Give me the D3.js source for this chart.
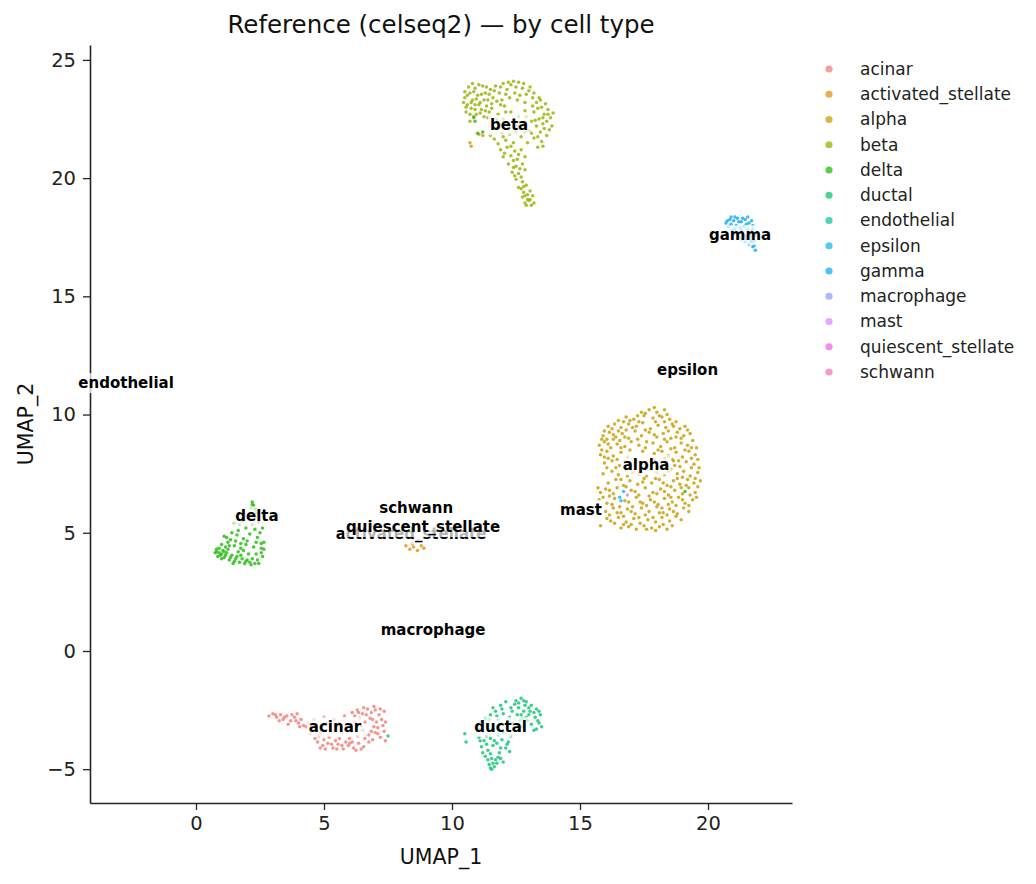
<!DOCTYPE html>
<html>
<head>
<meta charset="utf-8">
<style>
  body { margin: 0; background: #fff; font-family: 'DejaVu Sans', sans-serif; }
  svg { overflow: visible; }
  .tick text { fill: #222; font-family: 'DejaVu Sans', sans-serif; }
  .tick line { stroke: #262626; stroke-width: 1.3; }
  .domain { stroke: #262626; stroke-width: 1.6; }
  .title { font-size: 24.5px; fill: #111; }
  .axlabel { font-size: 20.5px; fill: #111; }
  .legtext { font-size: 17px; fill: #222; }
  .clabel { font-size: 15px; font-weight: bold; fill: #000; }
</style>
</head>
<body>
<svg width="1036" height="884"></svg>
<script src="https://cdn.jsdelivr.net/npm/d3@7"></script>
<script>
// cell types, in legend order
const cellTypes = ["acinar", "activated_stellate", "alpha", "beta", "delta", "ductal", "endothelial",
  "epsilon", "gamma", "macrophage", "mast", "quiescent_stellate", "schwann"];

const typeColors = ["#f18881", "#e59a22", "#cba417", "#9fb617", "#33bf1d", "#21c77d", "#21c8b0",
  "#1fc3e0", "#22b1f7", "#9aa4fc", "#dc90f7", "#f473dd", "#f581b9"];

// UMAP coordinates, one list per cell type
const acinarPts = [[2.85,-2.75],[3.0,-2.65],[3.15,-2.8],[3.3,-2.7],[3.4,-2.9],[3.55,-2.75],[3.7,-2.95],[3.85,-2.8],[4.0,-3.05],[4.1,-2.9],[3.6,-3.1],[3.25,-2.95],[4.2,-3.15],[3.95,-2.65],
  [6.1,-2.6],[6.3,-2.5],[6.5,-2.65],[6.7,-2.45],[6.85,-2.6],[7.0,-2.5],[7.15,-2.7],[6.4,-2.85],[6.6,-3.0],[6.8,-2.85],[7.05,-3.0],[7.25,-2.9],[6.2,-3.0],[6.95,-3.2],[7.3,-3.15],[6.55,-2.4],[7.35,-2.55],
  [4.3,-3.2],[4.5,-3.35],[4.7,-3.1],[4.9,-3.3],[5.1,-3.05],[5.3,-3.4],[5.5,-3.2],[5.7,-3.45],[5.9,-3.15],[6.1,-3.4],[6.3,-3.6],[6.5,-3.35],[6.75,-3.55],[7.0,-3.45],[7.2,-3.65],[7.35,-3.4],[4.6,-2.9],[5.0,-2.8],[5.4,-2.9],[5.8,-2.75],[4.8,-3.6],[5.2,-3.65],[5.6,-3.7],[6.0,-3.7],[7.4,-3.8],[6.9,-3.75],
  [4.75,-3.85],[4.95,-4.0],[5.15,-3.9],[5.35,-4.1],[5.55,-3.95],[5.75,-4.15],[5.95,-4.0],[6.15,-4.1],[6.35,-3.9],[6.55,-4.05],[6.75,-3.85],[5.05,-4.15],[5.45,-3.8],[5.85,-3.85],[6.25,-4.2],[4.65,-3.7],
  [3.1,-2.7],[3.45,-2.8],[3.75,-2.7],[3.9,-2.95],[4.05,-3.2],[4.4,-3.05],[4.55,-3.2],[4.85,-3.45],[5.25,-3.2],[5.6,-3.05],[5.9,-3.35],[6.2,-2.75],[6.45,-3.15],[6.65,-2.7],[6.9,-2.9],[7.1,-3.25],[7.2,-2.45],[7.4,-3.0],[6.35,-2.6],[6.85,-3.4],[7.1,-3.5],[6.0,-3.9],[5.3,-3.95],[5.7,-4.0],[6.1,-3.85],[6.45,-4.15],[4.85,-4.1],[5.5,-4.15],[6.6,-3.7],[5.0,-3.75],[4.45,-3.5],[6.95,-2.35]];

const activatedStellatePts = [[10.7,21.5],[10.75,21.35],[11.05,21.85],[11.2,21.8],
  [8.2,4.45],[8.35,4.3],[8.5,4.4],[8.65,4.25],[8.8,4.45],[8.45,4.55],[8.9,4.35]];

const alphaPts = [[17.4,10.1],[17.7,10.2],[18.0,10.1],[18.3,10.2],[17.9,10.3],
  [16.8,9.9],[17.1,9.8],[17.5,9.95],[17.85,9.85],[18.2,9.9],[18.5,9.8],[16.5,9.75],[18.75,9.7],
  [16.1,9.5],[16.35,9.6],[16.6,9.45],[16.9,9.6],[17.2,9.5],[17.45,9.65],[17.75,9.4],[18.05,9.55],[18.35,9.45],[18.6,9.6],[18.9,9.4],[19.1,9.5],[16.7,9.7],[17.95,9.7],
  [15.9,9.1],[16.15,9.25],[16.4,9.05],[16.65,9.2],[16.9,9.0],[17.15,9.3],[17.4,9.1],[17.7,9.25],[18.0,9.05],[18.25,9.2],[18.55,9.0],[18.8,9.25],[19.05,9.1],[19.3,9.2],[16.05,8.95],[16.55,8.9],
  [15.75,8.7],[15.95,8.85],[16.2,8.6],[16.45,8.75],[16.75,8.65],[17.0,8.85],[17.3,8.7],[17.55,8.6],[17.85,8.8],[18.15,8.65],[18.4,8.85],[18.7,8.6],[18.95,8.8],[19.2,8.7],[19.4,8.9],[16.3,8.95],[15.85,8.5],
  [15.8,8.3],[16.05,8.45],[16.3,8.25],[16.6,8.4],[16.85,8.2],[17.9,8.35],[18.2,8.45],[18.45,8.25],[18.75,8.4],[19.0,8.2],[19.25,8.45],[19.5,8.3],[16.1,8.15],[18.6,8.1],
  [17.2,8.0],[17.6,7.9],[17.9,8.1],
  [15.95,7.95],[16.25,8.05],[16.55,7.85],[18.35,7.95],[18.65,8.05],[18.9,7.8],[19.15,8.0],[19.45,7.9],[19.6,8.1],
  [16.25,7.6],[16.5,7.45],[16.8,7.65],[17.3,7.5],[17.6,7.4],[18.0,7.55],[18.3,7.45],[18.55,7.7],[18.8,7.5],[19.05,7.6],[19.3,7.4],[19.6,7.55],
  [16.1,7.1],[16.4,7.25],[16.7,7.0],[16.95,7.2],[17.25,7.05],[17.5,7.3],[17.8,7.1],[18.1,7.25],[18.4,7.0],[18.65,7.2],[18.9,7.05],[19.2,7.25],[19.45,7.1],[19.7,7.2],
  [15.8,6.7],[16.0,6.85],[16.3,6.65],[17.0,6.8],[17.3,6.6],[17.55,6.9],[17.85,6.7],[18.15,6.85],[18.45,6.6],[18.7,6.8],[19.0,6.65],[19.25,6.9],[19.5,6.7],[15.7,6.9],
  [15.75,6.4],[16.05,6.25],[16.35,6.45],[16.9,6.3],[17.2,6.5],[17.45,6.25],[17.75,6.4],[18.05,6.2],[18.3,6.45],[18.6,6.3],[18.85,6.5],[19.1,6.25],[19.4,6.4],[16.15,6.55],
  [16.0,5.9],[16.3,6.05],[16.6,5.85],[16.85,6.0],[17.15,5.8],[17.4,6.05],[17.7,5.9],[18.0,6.1],[18.25,5.85],[18.5,6.0],[18.8,5.8],[19.05,6.05],[19.25,5.9],
  [16.2,5.5],[16.5,5.65],[16.8,5.45],[17.1,5.6],[17.35,5.4],[17.65,5.55],[17.95,5.45],[18.2,5.65],[18.5,5.5],[18.75,5.7],[16.05,5.6],
  [16.9,5.25],[17.2,5.15],[17.5,5.3],[17.8,5.2],[18.1,5.25],[18.4,5.15],[15.8,5.3],[16.6,5.2],
  [17.55,10.05],[17.25,9.95],[18.1,9.95],[18.4,10.0],[16.95,9.75],[17.3,9.7],[18.3,9.7],[18.65,9.5],[16.25,9.4],[16.5,9.3],[16.8,9.35],[17.05,9.45],[17.55,9.35],[17.9,9.15],[18.45,9.3],[18.75,9.05],[19.2,9.35],[15.95,9.3],[16.3,9.15],[16.75,9.05],[17.25,8.95],[17.6,8.85],[18.3,8.95],[18.95,9.0],[19.35,8.6],[15.85,8.95],[16.1,8.75],[16.6,8.6],[16.95,8.5],[17.45,8.45],[18.05,8.5],[18.55,8.55],[19.1,8.5],[19.55,8.6],[15.95,8.2],[16.45,8.1],[16.75,8.0],[18.3,8.15],[18.85,8.05],[19.35,8.15],[19.65,7.75],[16.05,7.75],[16.4,7.75],[18.2,7.75],[18.45,7.6],[18.7,7.85],[19.0,7.35],[19.35,7.75],[19.5,7.3],[16.6,7.25],[16.85,7.4],[17.05,7.55],[17.45,7.15],[17.95,7.3],[18.25,7.1],[18.55,6.95],[18.8,7.3],[19.15,7.0],[19.6,6.95],[15.9,6.5],[16.15,6.8],[16.45,6.9],[16.8,6.95],[17.15,6.75],[17.7,6.55],[18.0,6.65],[18.3,6.75],[18.55,6.5],[18.95,6.9],[19.3,6.6],[19.55,6.5],[16.25,6.2],[16.55,6.1],[16.75,6.35],[17.05,6.1],[17.35,6.3],[17.6,6.15],[17.9,6.3],[18.2,6.05],[18.45,6.2],[18.75,6.15],[19.0,6.4],[19.25,6.15],[16.15,5.75],[16.45,5.85],[16.7,5.7],[17.0,5.9],[17.3,5.65],[17.55,5.75],[17.85,5.65],[18.1,5.85],[18.4,5.75],[18.65,5.9],[18.95,5.55],[16.35,5.4],[16.7,5.35],[17.0,5.35],[17.6,5.15],[17.95,5.1],[18.25,5.35],[18.6,5.3],[15.75,6.05],[15.9,7.5]];

const betaPts = [[10.5,23.4],[10.6,23.1],[10.7,23.6],[10.8,23.3],[10.9,23.8],[11.0,23.5],[11.1,23.2],[11.2,23.9],[11.3,23.6],[11.4,23.3],[10.55,22.8],[10.75,22.95],[10.95,22.7],[11.15,22.9],[11.35,23.05],[11.5,23.75],[10.65,23.85],[10.85,22.55],[11.05,23.95],[11.25,22.6],[10.45,23.2],[11.45,22.8],[10.7,22.4],[11.6,23.4],[10.9,23.1],
  [11.7,23.9],[11.85,23.6],[12.0,24.0],[12.15,23.75],[12.3,23.95],[12.45,23.6],[12.6,24.05],[12.75,23.8],[12.9,23.55],[13.05,23.85],[13.15,23.4],[11.95,23.3],[12.25,23.4],[12.55,23.3],[12.85,23.2],[12.4,24.1],[11.75,23.25],
  [13.3,23.2],[13.5,23.0],[13.2,22.8],[13.6,22.7],[13.4,22.5],[13.75,22.9],[13.85,22.55],[13.3,22.2],[13.55,22.3],[13.9,22.2],[13.1,22.4],[13.45,21.95],[13.7,21.8],[13.2,21.7],[13.5,21.55],[13.35,21.3],[13.0,22.0],[13.65,23.15],[13.95,22.75],[13.15,23.05],
  [11.6,22.4],[11.8,22.7],[12.0,22.5],[12.3,22.8],[12.6,22.6],[12.85,22.85],[11.7,22.1],[11.95,21.9],[12.2,22.15],[12.5,21.95],[12.75,22.3],[11.5,21.8],[12.1,21.6],[12.4,21.5],[12.7,21.75],[12.95,21.5],[11.8,21.45],[11.55,22.95],[12.05,23.05],
  [11.9,21.2],[12.15,21.3],[12.45,21.15],[12.7,21.2],[12.0,20.9],[12.3,20.95],[12.55,20.8],[12.85,20.9],[12.2,20.6],[12.5,20.5],[12.75,20.6],[12.35,20.25],[12.6,20.2],[12.85,20.35],[12.5,19.95],[12.75,19.85],[12.6,19.6],[12.9,19.7],[12.8,19.4],[13.05,19.45],[12.75,19.2],[12.95,19.1],[13.15,19.25],[12.85,18.95],[13.1,18.85],[13.0,19.05],[12.4,20.45],[13.2,18.95],
  [10.6,23.5],[10.75,23.2],[10.85,23.65],[10.95,23.35],[11.05,23.1],[11.15,23.55],[11.25,23.3],[11.35,23.85],[11.45,23.55],[10.55,23.0],[10.7,22.7],[10.9,22.9],[11.1,22.75],[11.3,22.85],[11.55,23.15],[10.5,23.65],[10.8,24.0],[11.65,23.7],[11.9,23.85],[12.1,23.55],[12.2,24.05],[12.5,23.85],[12.65,23.5],[12.8,24.0],[13.0,23.7],[13.2,23.6],[13.4,23.4],[13.35,22.95],[13.55,22.55],[13.7,22.4],[13.25,22.45],[13.8,22.05],[13.6,22.1],[13.35,21.75],[13.1,21.9],[13.55,21.35],[13.45,23.3],[13.75,22.7],[11.75,22.5],[12.1,22.8],[12.45,22.4],[12.9,22.6],[12.25,21.85],[12.55,22.2],[11.65,21.65],[12.0,21.75],[12.85,21.95],[12.3,21.35],[12.05,21.05],[12.6,21.0],[12.4,20.75],[12.65,20.4],[12.45,20.1],[12.7,20.05],[12.8,19.65],[12.7,19.55],[12.95,19.3],[12.9,18.85],[13.05,19.1],[12.85,19.25],[11.4,22.55],[11.9,23.1]];

const deltaPts = [[10.85,22.6],[10.9,22.4],[11.0,21.9],[11.2,21.95],[19.1,6.75],
  [2.2,6.3],[2.25,6.15],[2.3,6.0],[2.15,6.05],[2.35,5.85],
  [1.5,5.4],[1.8,5.5],[2.1,5.6],[2.45,5.45],[2.6,5.2],[1.65,5.1],[1.95,5.2],[2.3,5.15],[1.4,5.0],
  [1.1,4.85],[1.35,4.7],[1.6,4.9],[1.85,4.75],[2.1,4.95],[2.4,4.8],[2.65,4.6],[1.0,4.5],[1.5,4.45],[1.95,4.5],[2.25,4.4],[2.55,4.35],[1.25,4.6],
  [0.8,4.2],[0.9,4.35],[0.95,4.05],[1.05,4.25],[1.1,3.95],[1.2,4.15],[1.3,3.85],[1.4,4.05],[1.5,3.8],[1.6,4.0],[1.7,3.75],[1.8,3.9],[1.9,3.7],[2.0,3.85],[2.1,3.75],[2.2,3.9],[2.3,3.7],[2.4,3.85],[0.85,4.0],[1.0,3.9],[1.25,4.3],[1.65,4.2],[1.45,3.7],[2.05,4.1],[2.35,4.1],[2.6,4.0],[2.65,4.3],[0.75,4.15],[1.15,4.4],[1.75,4.35],
  [2.2,6.2],[2.3,5.7],[1.7,5.35],[2.2,5.35],[2.5,5.0],[1.55,4.65],[1.75,4.55],[2.0,4.65],[2.35,4.6],[2.55,4.55],[1.2,4.8],[0.9,4.15],[1.0,4.1],[1.15,4.05],[1.35,3.95],[1.55,3.9],[1.75,4.05],[1.95,3.8],[2.15,3.65],[2.45,3.7],[0.8,4.3],[1.1,4.2],[1.3,4.45],[2.55,4.15],[1.85,4.25]];

const ductalPts = [[12.5,-2.1],[12.7,-2.0],[12.9,-2.15],[13.1,-2.3],[13.3,-2.45],[13.45,-2.7],[13.35,-2.95],[13.5,-3.2],[13.2,-3.35],[12.6,-2.4],[12.8,-2.55],[13.0,-2.7],[13.2,-2.6],[12.95,-2.95],[12.75,-2.85],[12.55,-2.7],[13.1,-3.1],[12.45,-2.25],[13.4,-2.55],[12.85,-2.3],
  [11.9,-2.3],[12.1,-2.15],[12.3,-2.4],[11.7,-2.55],[11.5,-2.7],[11.3,-2.85],[11.1,-3.0],[12.0,-2.65],[12.25,-2.8],[11.8,-2.9],[11.05,-3.3],[11.4,-3.15],[12.35,-3.05],[11.6,-2.4],
  [11.2,-3.4],[11.6,-3.3],[12.0,-3.45],[12.4,-3.3],[12.7,-3.2],
  [11.05,-3.65],[11.25,-3.8],[11.5,-3.7],[11.75,-3.9],[11.95,-3.75],[12.2,-3.85],[11.15,-4.05],[11.4,-4.2],[11.6,-4.0],[11.85,-4.3],[12.1,-4.1],[12.25,-4.25],[11.3,-4.45],[11.55,-4.55],[11.8,-4.5],[12.0,-4.7],[11.45,-4.8],[11.65,-4.9],[11.55,-5.0],[11.75,-4.75],[11.2,-4.3],[12.3,-3.6],
  [10.5,-3.5],[10.55,-3.85],[7.5,-3.6],
  [12.6,-2.2],[12.8,-2.1],[13.0,-2.4],[13.25,-2.8],[13.4,-3.05],[12.7,-2.7],[12.9,-2.8],[13.05,-2.55],[12.65,-2.95],[13.3,-3.3],[12.35,-2.55],[11.95,-2.45],[11.75,-2.75],[11.45,-2.9],[11.2,-3.15],[11.35,-3.6],[11.8,-3.55],[11.65,-3.8],[11.35,-3.95],[11.9,-4.1],[12.15,-3.95],[11.5,-4.35],[11.7,-4.6],[11.4,-4.6],[11.9,-4.55],[11.6,-4.75],[11.5,-4.95],[11.1,-3.8]];

const endothelialPts = [[-2.65,11.15]];
const epsilonPts = [[16.55,6.5],[16.7,6.75],[16.6,6.35],[21.3,17.4],[21.45,17.55],[21.65,17.55]];

const gammaPts = [[20.7,18.1],[20.85,18.25],[21.0,18.2],[21.15,18.3],[21.3,18.15],[21.45,18.25],[21.6,18.1],[21.75,18.0],[20.8,17.95],[20.95,17.8],[21.1,18.0],[21.25,17.9],[21.4,17.95],[21.55,17.85],[21.7,17.75],[21.85,17.6],[21.0,17.6],[21.2,17.5],[21.35,17.65],[21.5,17.45],[21.65,17.4],[21.8,17.35],[21.45,17.3],[21.6,17.2],[21.75,17.1],[21.85,16.95],[20.9,18.35],[21.55,18.35],
  [20.75,18.2],[21.05,18.35],[21.2,18.15],[21.35,18.3],[21.5,18.05],[21.7,18.2],[20.9,18.05],[21.05,17.85],[21.3,17.8],[21.6,17.65],[21.75,17.85],[21.15,17.7],[21.4,17.55],[21.7,17.3],[21.8,17.15]];

const macrophagePts = [[8.6,4.65]];
const mastPts = [[16.85,6.6]];
const quiescentStellatePts = [[8.45,4.75],[8.7,4.7]];
const schwannPts = [[8.55,4.85]];

// where each type's name is written on the map
const labelX = [5.43, 8.4, 17.58, 12.23, 2.38, 11.9, -2.73, 19.2, 21.25, 9.26, 15.04, 8.87, 8.6];
const labelY = [-3.21, 4.95, 7.86, 22.24, 5.7, -3.21, 11.33, 11.9, 17.59, 0.89, 5.96, 5.24, 6.05];

const xTicks = [0, 5, 10, 15, 20];
const yTicks = [-5, 0, 5, 10, 15, 20, 25];

const pointSets = [acinarPts, activatedStellatePts, alphaPts, betaPts, deltaPts, ductalPts, endothelialPts,
  epsilonPts, gammaPts, macrophagePts, mastPts, quiescentStellatePts, schwannPts];

let svg = d3.select("svg");
let margin = { top: 45, right: 244, bottom: 81, left: 90 };
let width = 1036, height = 884;

let x = d3.scaleLinear().domain([-4.14, 23.28]).range([margin.left, width - margin.right]);
let y = d3.scaleLinear().domain([-6.43, 25.63]).range([height - margin.bottom, margin.top]);
let color = d3.scaleOrdinal().domain(cellTypes).range(typeColors);

let points = [];
cellTypes.forEach((t, i) => pointSets[i].forEach(p => points.push({ type: t, x: p[0], y: p[1] })));

svg.append("g")
  .selectAll("circle")
  .data(points)
  .join("circle")
  .attr("cx", d => x(d.x))
  .attr("cy", d => y(d.y))
  .attr("r", 1.75)
  .attr("fill", d => color(d.type))
  .attr("fill-opacity", 0.88);

// axes, matplotlib style: only left and bottom spines
svg.append("g")
  .attr("transform", `translate(0,${height - margin.bottom})`)
  .call(d3.axisBottom(x).tickValues(xTicks).tickSize(7).tickPadding(6).tickSizeOuter(0).tickFormat(d3.format("d")));

svg.append("g")
  .attr("transform", `translate(${margin.left},0)`)
  .call(d3.axisLeft(y).tickValues(yTicks).tickSize(7).tickPadding(7).tickSizeOuter(0)
    .tickFormat(d => d < 0 ? "\u2212" + Math.abs(d) : d));

svg.selectAll(".tick text").style("font-size", "19.5px");

svg.append("text").attr("class", "title")
  .attr("x", (margin.left + width - margin.right) / 2).attr("y", 33)
  .attr("text-anchor", "middle")
  .text("Reference (celseq2) \u2014 by cell type");

svg.append("text").attr("class", "axlabel")
  .attr("x", (margin.left + width - margin.right) / 2).attr("y", 864)
  .attr("text-anchor", "middle")
  .text("UMAP_1");

svg.append("text").attr("class", "axlabel")
  .attr("transform", `translate(33,${(margin.top + height - margin.bottom) / 2}) rotate(-90)`)
  .attr("text-anchor", "middle")
  .text("UMAP_2");

// cluster labels with translucent white boxes
let labelLayer = svg.append("g");
cellTypes.forEach((t, i) => {
  let g = labelLayer.append("g");
  let txt = g.append("text").attr("class", "clabel")
    .attr("x", x(labelX[i])).attr("y", y(labelY[i]))
    .attr("text-anchor", "middle").attr("dominant-baseline", "central")
    .text(t);
  let bb = txt.node().getBBox();
  g.insert("rect", "text")
    .attr("x", bb.x - 2).attr("y", bb.y - 1)
    .attr("width", bb.width + 4).attr("height", bb.height + 2)
    .attr("fill", "#fff").attr("fill-opacity", 0.7);
});

// legend
let legend = svg.append("g").attr("transform", "translate(829,69)");
let rows = legend.selectAll("g").data(cellTypes).join("g")
  .attr("transform", (d, i) => `translate(0,${i * 25.25})`);
rows.append("circle").attr("r", 3.6).attr("fill", d => color(d)).attr("fill-opacity", 0.8);
rows.append("text").attr("class", "legtext").attr("x", 31).attr("dy", "0.35em").text(d => d);
</script>
</body>
</html>
